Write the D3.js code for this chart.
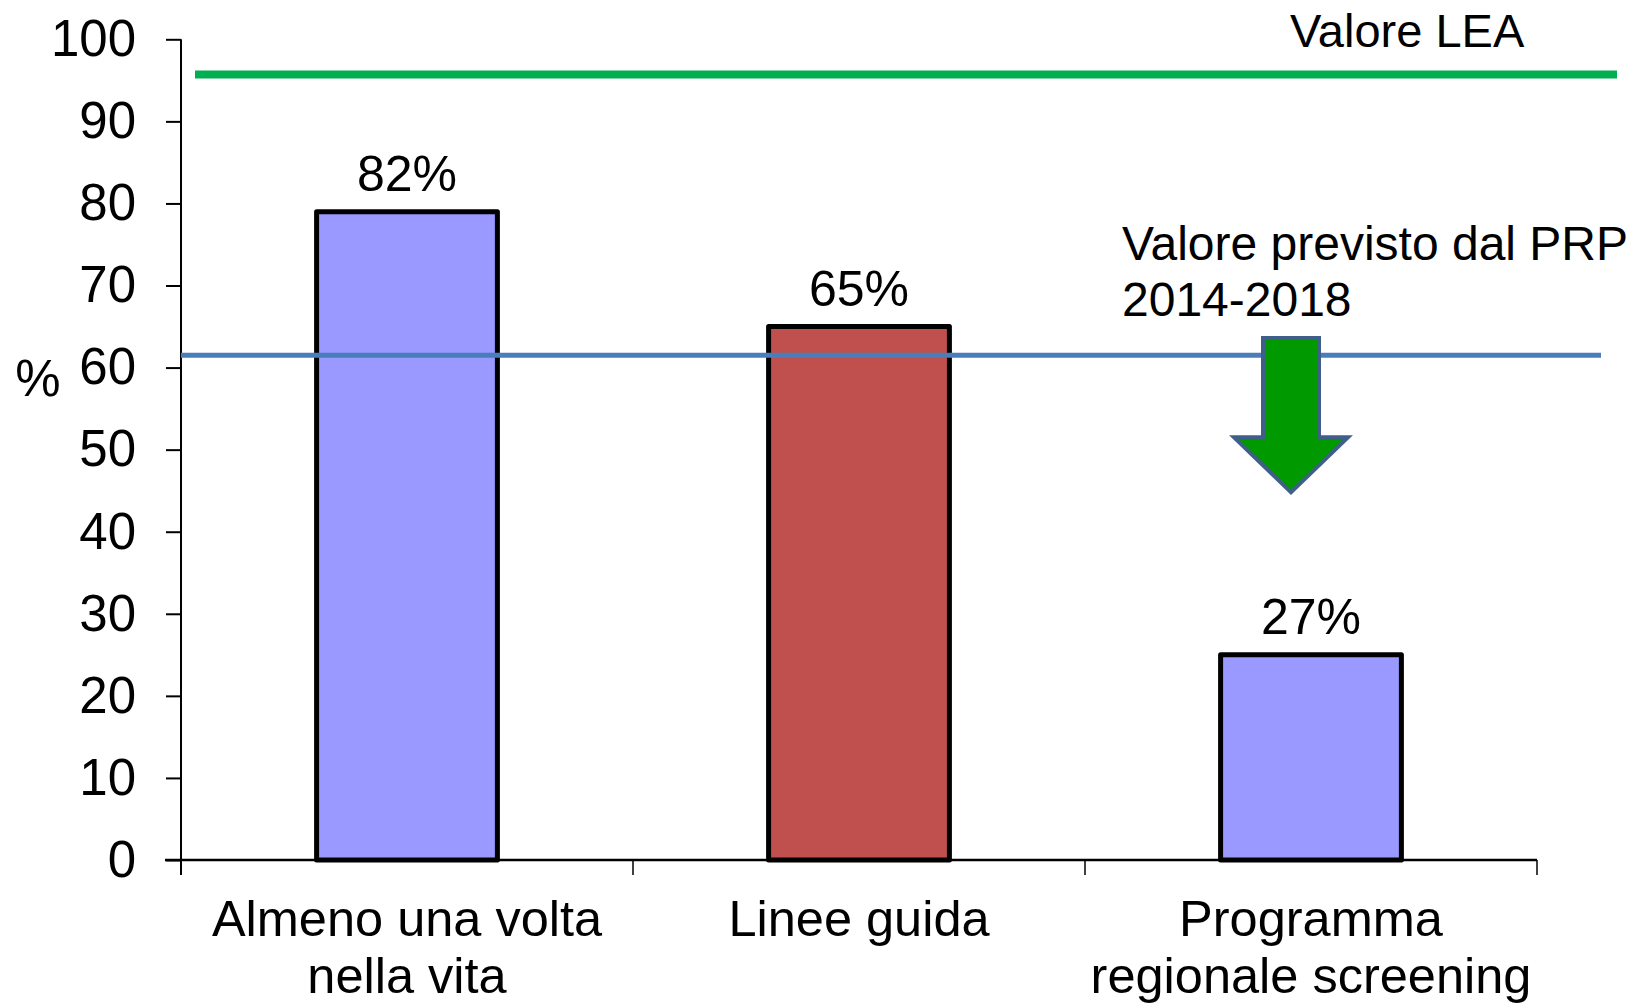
<!DOCTYPE html>
<html>
<head>
<meta charset="utf-8">
<script src="https://cdn.jsdelivr.net/npm/d3@7"></script>
<style>
  html, body { margin: 0; padding: 0; background: #fff; }
  svg { display: block; }
  text { font-family: "Liberation Sans", Arial, sans-serif; fill: #000; }
</style>
</head>
<body>
<script>
// ---- data ----
const categories = ["Almeno una volta\nnella vita", "Linee guida", "Programma\nregionale screening"];
const values = [79, 65, 25];               // bar heights as drawn
const valueLabels = ["82%", "65%", "27%"]; // labels as printed
const barColors = ["#9999FF", "#C0504D", "#9999FF"];
const yTicks = [0, 10, 20, 30, 40, 50, 60, 70, 80, 90, 100];
const leaValue = 95.7;     // "Valore LEA" reference line
const prpValue = 61.5;     // "Valore previsto dal PRP 2014-2018" line
const arrowValues = { top: 63.6, shoulder: 51.5, tip: 44.8 };

const W = 1634, H = 1005;
const FS_TICK = 51, FS_CAT = 50.5, FS_VAL = 50, FS_PRP = 48, FS_LEA = 47, FS_PCT = 51;

const svg = d3.select("body").append("svg").attr("width", W).attr("height", H);

const y = d3.scaleLinear().domain([0, 100]).range([860, 39.3]);
const x = d3.scaleBand().domain(categories).range([181, 1537]).paddingInner(0.6).paddingOuter(0.3);

// y axis
const yAxis = d3.axisLeft(y).tickValues(yTicks).tickSize(15).tickPadding(30).tickSizeOuter(0);
const gy = svg.append("g").attr("transform", "translate(181,0)").call(yAxis);
gy.select(".domain").attr("stroke", "#000").attr("stroke-width", 2)
  .attr("d", `M0,${y(100)}V${y(0) + 15}`);
gy.selectAll(".tick line").attr("stroke", "#000").attr("stroke-width", 2);
gy.selectAll(".tick text").attr("font-size", FS_TICK).attr("font-family", "Liberation Sans, Arial, sans-serif").attr("fill", "#000");

// "%" axis title
svg.append("text").attr("x", 38).attr("y", 396).attr("text-anchor", "middle")
  .attr("font-size", FS_PCT).text("%");

// bars
svg.append("g").selectAll("rect").data(categories).join("rect")
  .attr("x", d => x(d))
  .attr("y", (d, i) => y(values[i]))
  .attr("width", x.bandwidth())
  .attr("height", (d, i) => y(0) - y(values[i]))
  .attr("fill", (d, i) => barColors[i])
  .attr("stroke", "#000").attr("stroke-width", 5).attr("stroke-linejoin", "round");

// x axis line and ticks at band boundaries
const step = x.step();
const r0 = x.range()[0];
svg.append("line").attr("x1", 165).attr("x2", x.range()[1]).attr("y1", y(0)).attr("y2", y(0))
  .attr("stroke", "#000").attr("stroke-width", 2.5);
const bounds = d3.range(categories.length + 1).map(i => r0 + i * step);
svg.append("g").selectAll("line").data(bounds).join("line")
  .attr("x1", d => d).attr("x2", d => d).attr("y1", y(0)).attr("y2", y(0) + 15)
  .attr("stroke", "#000").attr("stroke-width", 1.5);

// category labels
const cl = svg.append("g").selectAll("text").data(categories).join("text")
  .attr("text-anchor", "middle").attr("font-size", FS_CAT)
  .attr("x", d => x(d) + x.bandwidth() / 2).attr("y", 936);
cl.each(function(d) {
  const t = d3.select(this);
  d.split("\n").forEach((line, i) => {
    t.append("tspan").attr("x", x(d) + x.bandwidth() / 2).attr("dy", i === 0 ? 0 : 57).text(line);
  });
});

// value labels
svg.append("g").selectAll("text").data(categories).join("text")
  .attr("text-anchor", "middle").attr("font-size", FS_VAL)
  .attr("x", d => x(d) + x.bandwidth() / 2)
  .attr("y", (d, i) => y(values[i]) - 21)
  .text((d, i) => valueLabels[i]);

// LEA line
svg.append("line").attr("x1", 195).attr("x2", 1617).attr("y1", y(leaValue)).attr("y2", y(leaValue))
  .attr("stroke", "#00B050").attr("stroke-width", 8);
svg.append("text").attr("x", 1290).attr("y", 47).attr("font-size", FS_LEA).text("Valore LEA");

// PRP line
svg.append("line").attr("x1", 181).attr("x2", 1601).attr("y1", y(prpValue)).attr("y2", y(prpValue))
  .attr("stroke", "#4A7EBB").attr("stroke-width", 5);
const prp = svg.append("text").attr("x", 1122).attr("y", 260).attr("font-size", FS_PRP);
prp.append("tspan").attr("x", 1122).attr("dy", 0).text("Valore previsto dal PRP");
prp.append("tspan").attr("x", 1122).attr("dy", 56).text("2014-2018");

// down arrow near third bar
const cx = x(categories[2]) + x.bandwidth() / 2 - 20;
const sh = 28, hh = 57;
const yt = y(arrowValues.top), ys = y(arrowValues.shoulder), yp = y(arrowValues.tip);
const arrowPath = d3.path();
arrowPath.moveTo(cx - sh, yt);
arrowPath.lineTo(cx + sh, yt);
arrowPath.lineTo(cx + sh, ys);
arrowPath.lineTo(cx + hh, ys);
arrowPath.lineTo(cx, yp);
arrowPath.lineTo(cx - hh, ys);
arrowPath.lineTo(cx - sh, ys);
arrowPath.closePath();
svg.append("path").attr("d", arrowPath.toString())
  .attr("fill", "#009900").attr("stroke", "#3F5F8A").attr("stroke-width", 4).attr("stroke-linejoin", "miter");
</script>
</body>
</html>
